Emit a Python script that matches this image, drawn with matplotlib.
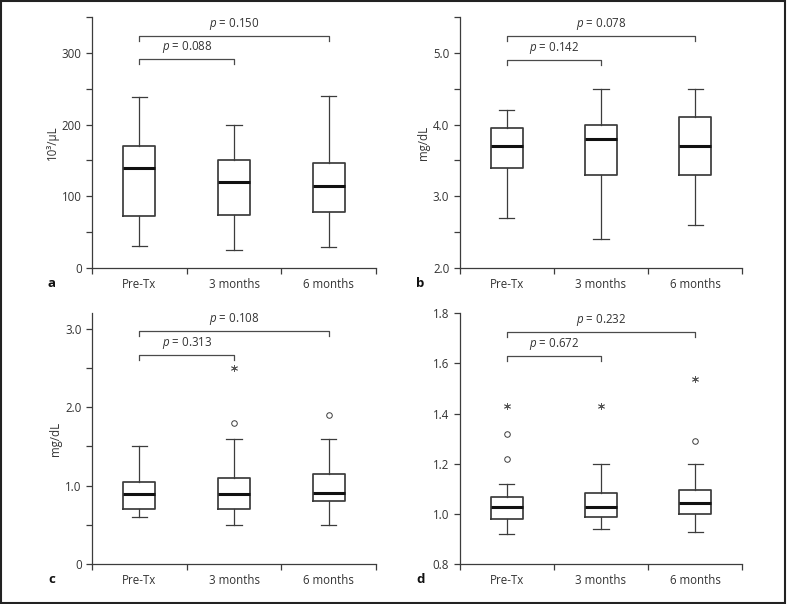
"""Box plots of lab values before and after treatment (four panels)"""

import matplotlib.pyplot as plt
from matplotlib.patches import Rectangle

plt.rcParams.update({
    "font.family": ["Open Sans", "DejaVu Sans"],
    "font.size": 8,
    "mathtext.fontset": "custom",
    "mathtext.rm": "Open Sans",
    "mathtext.it": "Open Sans:italic",
})

groups = ["Pre-Tx", "3 months", "6 months"]

# panel a: platelets (10^3/uL)
a_whislo = [30, 25, 29]
a_q1 = [73, 74, 78]
a_med = [139, 120, 115]
a_q3 = [170, 150, 146]
a_whishi = [238, 200, 240]
a_circles = [[], [], []]
a_stars = [[], [], []]
a_pvals = ["0.088", "0.150"]
a_bracket_y = [291, 323.5]

# panel b: albumin (mg/dL)
b_whislo = [2.7, 2.4, 2.6]
b_q1 = [3.4, 3.3, 3.3]
b_med = [3.7, 3.8, 3.7]
b_q3 = [3.95, 4.0, 4.1]
b_whishi = [4.2, 4.5, 4.5]
b_circles = [[], [], []]
b_stars = [[], [], []]
b_pvals = ["0.142", "0.078"]
b_bracket_y = [4.90, 5.23]

# panel c: bilirubin (mg/dL)
c_whislo = [0.6, 0.5, 0.5]
c_q1 = [0.7, 0.7, 0.8]
c_med = [0.9, 0.9, 0.91]
c_q3 = [1.05, 1.1, 1.15]
c_whishi = [1.5, 1.6, 1.6]
c_circles = [[], [1.8], [1.9]]
c_stars = [[], [2.5], []]
c_pvals = ["0.313", "0.108"]
c_bracket_y = [2.67, 2.97]

# panel d: INR
d_whislo = [0.92, 0.94, 0.93]
d_q1 = [0.98, 0.99, 1.0]
d_med = [1.03, 1.03, 1.045]
d_q3 = [1.07, 1.085, 1.097]
d_whishi = [1.12, 1.2, 1.2]
d_circles = [[1.22, 1.32], [], [1.29]]
d_stars = [[1.43], [1.43], [1.54]]
d_pvals = ["0.672", "0.232"]
d_bracket_y = [1.631, 1.724]

LINE = "#3c3c3c"
TEXT = "#333333"

panels = [
    dict(letter="a", ylabel="10³/µL", ylim=(0, 350), step=50, labels=[0, 100, 200, 300], fmt="{:.0f}",
         stats=(a_whislo, a_q1, a_med, a_q3, a_whishi), circles=a_circles, stars=a_stars,
         pvals=a_pvals, bracket_y=a_bracket_y, rect=[0.1169, 0.5563, 0.3609, 0.4156]),
    dict(letter="b", ylabel="mg/dL", ylim=(2.0, 5.5), step=0.5, labels=[2.0, 3.0, 4.0, 5.0], fmt="{:.1f}",
         stats=(b_whislo, b_q1, b_med, b_q3, b_whishi), circles=b_circles, stars=b_stars,
         pvals=b_pvals, bracket_y=b_bracket_y, rect=[0.5841, 0.5563, 0.3591, 0.4156]),
    dict(letter="c", ylabel="mg/dL", ylim=(0, 3.2), step=0.5, labels=[0, 1.0, 2.0, 3.0], fmt="{:.1f}",
         stats=(c_whislo, c_q1, c_med, c_q3, c_whishi), circles=c_circles, stars=c_stars,
         pvals=c_pvals, bracket_y=c_bracket_y, rect=[0.1169, 0.0662, 0.3609, 0.4151]),
    dict(letter="d", ylabel="", ylim=(0.8, 1.8), step=0.2, labels=None, fmt="{:.1f}",
         stats=(d_whislo, d_q1, d_med, d_q3, d_whishi), circles=d_circles, stars=d_stars,
         pvals=d_pvals, bracket_y=d_bracket_y, rect=[0.5841, 0.0657, 0.3591, 0.4156]),
]

fig = plt.figure(figsize=(7.87, 6.04), dpi=100)

for p in panels:
    ax = fig.add_axes(p["rect"])
    whislo, q1, med, q3, whishi = p["stats"]
    bstats = []
    for i in range(len(groups)):
        bstats.append(dict(whislo=whislo[i], q1=q1[i], med=med[i], q3=q3[i], whishi=whishi[i], fliers=[]))
    ax.bxp(bstats, positions=range(len(groups)), widths=0.34, capwidths=0.16, showfliers=False,
           boxprops=dict(color=LINE, linewidth=1.25),
           whiskerprops=dict(color=LINE, linewidth=0.9),
           capprops=dict(color=LINE, linewidth=0.9),
           medianprops=dict(color="#111111", linewidth=2.2))

    # outliers: circles and extremes: asterisks
    for i in range(len(groups)):
        for v in p["circles"][i]:
            ax.plot(i, v, marker="o", ms=4, mfc="white", mec=LINE, mew=0.7, ls="none")
        for v in p["stars"][i]:
            ax.plot(i, v, marker=(6, 2, 0), ms=5, mec="#555555", mew=0.6, ls="none")

    ymin, ymax = p["ylim"]
    ax.set_ylim(ymin, ymax)
    ax.set_xlim(-0.5, 2.5)

    # significance brackets
    drop = 0.02 * (ymax - ymin)
    for (x0, x1), pv, yb in zip([(0, 1), (0, 2)], p["pvals"], p["bracket_y"]):
        ax.plot([x0, x0, x1, x1], [yb - drop, yb, yb, yb - drop], color="#4a4a4a", lw=0.9,
                clip_on=False)
        ax.annotate("$p$ = " + pv, xy=((x0 + x1) / 2, yb), xytext=(0, 3), textcoords="offset points",
                    ha="center", va="bottom", color=TEXT, fontsize=8.3)

    # axes
    n = int(round((ymax - ymin) / p["step"]))
    yt = [ymin + k * p["step"] for k in range(n + 1)]
    ax.set_yticks(yt)
    lbls = []
    for v in yt:
        if p["labels"] is None or any(abs(v - l) < 1e-9 for l in p["labels"]):
            lbls.append("0" if abs(v) < 1e-9 else p["fmt"].format(v))
        else:
            lbls.append("")
    ax.set_yticklabels(lbls)
    ax.set_xticks([-0.5, 0.5, 1.5, 2.5])
    ax.set_xticklabels([])
    ax.set_xticks(range(len(groups)), minor=True)
    ax.set_xticklabels(groups, minor=True)
    ax.tick_params(axis="x", which="minor", length=0, pad=7)
    ax.tick_params(axis="both", which="major", length=4, width=0.9, color=LINE, labelcolor=TEXT,
                   labelsize=8.3)
    ax.tick_params(axis="x", which="minor", labelcolor=TEXT, labelsize=8.3)

    for s in ["top", "right"]:
        ax.spines[s].set_visible(False)
    for s in ["left", "bottom"]:
        ax.spines[s].set_color(LINE)
        ax.spines[s].set_linewidth(0.9)

    if p["ylabel"]:
        ax.set_ylabel(p["ylabel"], color=TEXT, fontsize=8.3, labelpad=2)

    ax.text(-0.155, -0.035, p["letter"], transform=ax.transAxes, fontweight="bold",
            fontsize=9.5, color="#111111", ha="left", va="top")

# outer frame
fig.patches.append(Rectangle((0.001, 0.001), 0.997, 0.997, transform=fig.transFigure,
                             fill=False, edgecolor="#222222", linewidth=1.5))

fig.savefig("out.png", dpi=100)
